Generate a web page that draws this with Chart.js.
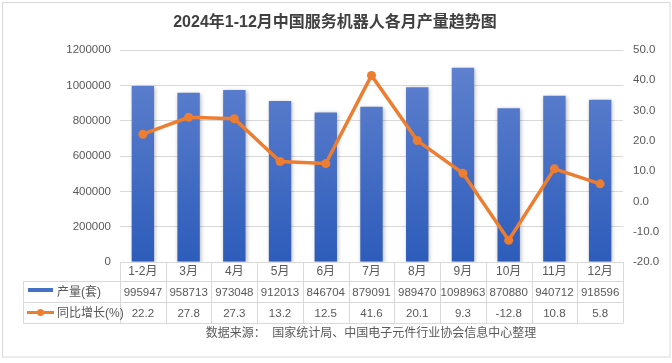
<!DOCTYPE html>
<html>
<head>
<meta charset="utf-8">
<script src="https://cdn.jsdelivr.net/npm/chart.js@4.4.1/dist/chart.umd.min.js"></script>
<style>
html,body{margin:0;padding:0;background:#fff;}
canvas{display:block;}
</style>
</head>
<body>
<canvas id="c" width="672" height="363"></canvas>
<script>
const categories = ['1-2月','3月','4月','5月','6月','7月','8月','9月','10月','11月','12月'];
const production = [995947, 958713, 973048, 912013, 846704, 879091, 989470, 1098963, 870880, 940712, 918596];
const growth = [22.2, 27.8, 27.3, 13.2, 12.5, 41.6, 20.1, 9.3, -12.8, 10.8, 5.8];
const titleText = '2024年1-12月中国服务机器人各月产量趋势图';
const sourceText = '数据来源：  国家统计局、中国电子元件行业协会信息中心整理';
const seriesNames = ['产量(套)', '同比增长(%)'];

const FONT = '"Liberation Sans", "Noto Sans CJK SC", sans-serif';
const GRID = '#d9d9d9';
const TXT = '#595959';

const extras = {
  id: 'extras',
  beforeDatasetDraw(chart, args) {
    if (args.index === 0) {
      const ctx = chart.ctx;
      ctx.save();
      ctx.shadowColor = 'rgba(0,0,0,0.28)';
      ctx.shadowBlur = 4;
      ctx.shadowOffsetX = 1;
      ctx.shadowOffsetY = 1;
    }
  },
  afterDatasetDraw(chart, args) {
    if (args.index === 0) chart.ctx.restore();
  },
  afterDraw(chart) {
    const ctx = chart.ctx;
    const x = chart.scales.x;
    const area = chart.chartArea;
    const n = categories.length;
    const w = (area.right - area.left) / n;
    const L = area.left, R = area.right;
    const y0 = area.bottom, y1 = 281.5, y2 = 302.5, y3 = 323.5;
    const tl = 23.5;
    ctx.save();
    // title
    ctx.fillStyle = '#404040';
    ctx.font = 'bold 16px ' + FONT;
    ctx.textAlign = 'center';
    ctx.textBaseline = 'middle';
    ctx.fillText(titleText, 335, 23);
    // table lines
    ctx.strokeStyle = GRID;
    ctx.lineWidth = 1;
    ctx.beginPath();
    ctx.moveTo(tl, y1); ctx.lineTo(R, y1);
    ctx.moveTo(tl, y2); ctx.lineTo(R, y2);
    ctx.moveTo(tl, y3); ctx.lineTo(R, y3);
    ctx.moveTo(tl, y1); ctx.lineTo(tl, y3);
    for (let i = 0; i <= n; i++) {
      const xx = Math.round(L + i * w) + 0.5;
      ctx.moveTo(xx, y0); ctx.lineTo(xx, y3);
    }
    ctx.stroke();
    // table text
    ctx.fillStyle = TXT;
    ctx.textAlign = 'center';
    for (let i = 0; i < n; i++) {
      const cx = x.getPixelForValue(i);
      ctx.font = '12px ' + FONT;
      ctx.fillText(categories[i], cx, 272);
      ctx.font = '11.5px ' + FONT;
      ctx.fillText(String(production[i]), cx, 292.5);
      ctx.fillText(growth[i].toFixed(1), cx, 313.5);
    }
    // legend keys
    ctx.fillStyle = '#4472c4';
    ctx.fillRect(28, 288, 25, 4);
    ctx.strokeStyle = '#ed7d31';
    ctx.lineWidth = 3;
    ctx.beginPath();
    ctx.moveTo(27, 312.5); ctx.lineTo(54, 312.5);
    ctx.stroke();
    ctx.fillStyle = '#ed7d31';
    ctx.beginPath();
    ctx.arc(40.5, 312.5, 3.5, 0, Math.PI * 2);
    ctx.fill();
    ctx.fillStyle = TXT;
    ctx.textAlign = 'left';
    ctx.font = '12px ' + FONT;
    ctx.fillText(seriesNames[0], 57, 292.5);
    ctx.fillText(seriesNames[1], 57, 313.5);
    // source
    ctx.textAlign = 'center';
    ctx.fillText(sourceText, 371, 334);
    // outer border
    ctx.strokeStyle = GRID;
    ctx.lineWidth = 1;
    ctx.strokeRect(2.5, 2.5, 667.5, 354.5);
    ctx.restore();
  }
};

const bg = {
  id: 'bg',
  beforeDraw(chart) {
    const ctx = chart.ctx;
    ctx.save();
    ctx.fillStyle = '#fff';
    ctx.fillRect(0, 0, chart.width, chart.height);
    ctx.restore();
  }
};

function barGradient(context) {
  const chart = context.chart;
  const area = chart.chartArea;
  if (!area) return '#4472c4';
  const g = chart.ctx.createLinearGradient(0, area.top, 0, area.bottom);
  g.addColorStop(0, '#6384d0');
  g.addColorStop(1, '#2d5cba');
  return g;
}

new Chart(document.getElementById('c'), {
  data: {
    labels: categories,
    datasets: [
      {
        type: 'bar',
        label: seriesNames[0],
        data: production,
        yAxisID: 'y',
        backgroundColor: barGradient,
        borderWidth: 0,
        barPercentage: 0.49,
        categoryPercentage: 1,
        order: 1
      },
      {
        type: 'line',
        label: seriesNames[1],
        data: growth,
        yAxisID: 'y1',
        borderColor: '#ed7d31',
        backgroundColor: '#ed7d31',
        borderWidth: 3.5,
        pointRadius: 4.5,
        pointBackgroundColor: '#ed7d31',
        pointBorderWidth: 0,
        tension: 0,
        order: 0
      }
    ]
  },
  options: {
    responsive: false,
    animation: false,
    devicePixelRatio: 1,
    layout: { padding: { top: 50, left: 0, right: 0, bottom: 0 } },
    plugins: {
      legend: { display: false },
      title: { display: false },
      tooltip: { enabled: false }
    },
    scales: {
      x: {
        offset: true,
        grid: { display: false },
        border: { display: true, color: GRID },
        ticks: { display: false },
        afterFit(s) { s.height = 101; }
      },
      y: {
        position: 'left',
        min: 0, max: 1200000,
        ticks: { stepSize: 200000, color: TXT, font: { size: 11.5, family: FONT }, padding: 9,
          callback: v => String(Math.round(v)) },
        grid: { color: GRID, drawTicks: false },
        border: { display: false },
        afterFit(s) { s.width = 120; }
      },
      y1: {
        position: 'right',
        min: -20, max: 50,
        ticks: { stepSize: 10, color: TXT, font: { size: 11.5, family: FONT }, padding: 10,
          callback: v => Number(v).toFixed(1) },
        grid: { display: false, drawTicks: false },
        border: { display: false },
        afterFit(s) { s.width = 49; }
      }
    }
  },
  plugins: [bg, extras]
});
</script>
</body>
</html>
